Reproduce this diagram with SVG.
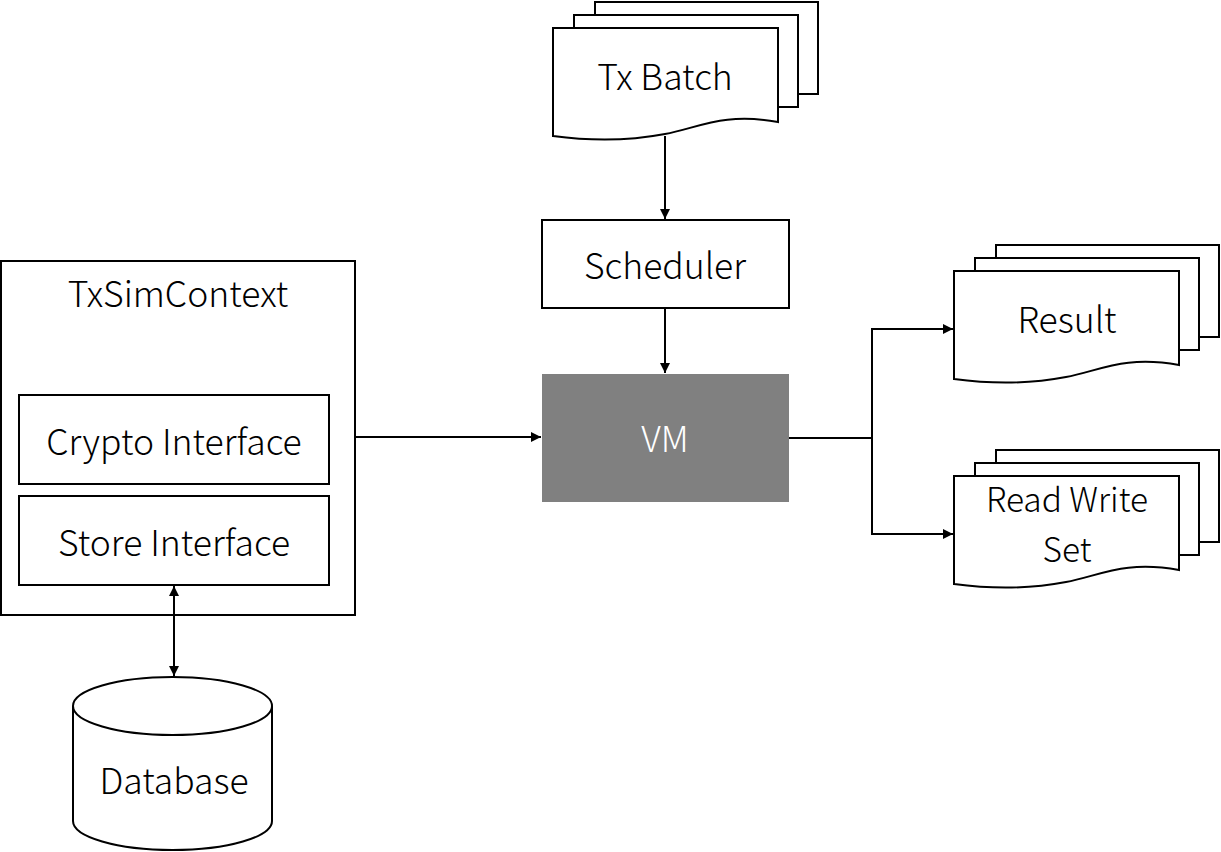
<svg xmlns="http://www.w3.org/2000/svg" width="1221" height="852" viewBox="0 0 1221 852">
<defs>
<style>
.s{fill:#fff;stroke:#000;stroke-width:2}
.t{font-family:"Noto Sans CJK SC","Noto Sans",sans-serif;font-size:35.5px;font-weight:300;fill:#000;text-anchor:middle;dominant-baseline:central}
.c{fill:none;stroke:#000;stroke-width:2}
</style>
<marker id="a" viewBox="0 0 10 10" refX="10" refY="5" markerWidth="11" markerHeight="10" orient="auto-start-reverse" markerUnits="userSpaceOnUse">
<path d="M0,0 L10,5 L0,10 Z" fill="#000"/>
</marker>
<g id="doc3">
<rect class="s" x="42" y="-26" width="223" height="92"/>
<rect class="s" x="21" y="-13" width="224" height="92"/>
<path class="s" d="M0,0 H225 V94 C170,84 145,100 112,106 C70,114 30,112 0,108 Z"/>
</g>
</defs>
<rect width="1221" height="852" fill="#fff"/>
<g id="txbatch">
<use href="#doc3" x="553" y="28"/>
<text class="t" x="665" y="74">Tx Batch</text>
</g>
<g id="scheduler">
<rect class="s" x="542" y="220" width="247" height="88"/>
<text class="t" x="665" y="263">Scheduler</text>
</g>
<g id="vm">
<rect x="542" y="374" width="247" height="128" fill="#808080"/>
<text class="t" x="665" y="436" style="fill:#fff">VM</text>
</g>
<g id="txsimcontext">
<rect class="s" x="1" y="261" width="354" height="354"/>
<text class="t" x="178" y="291">TxSimContext</text>
</g>
<g id="crypto">
<rect class="s" x="19" y="395" width="310" height="89"/>
<text class="t" x="174" y="439">Crypto Interface</text>
</g>
<g id="store">
<rect class="s" x="19" y="496" width="310" height="89"/>
<text class="t" x="174" y="540">Store Interface</text>
</g>
<g id="database">
<path class="s" d="M73,706 A99.5,29 0 0 1 272,706 V821 A99.5,29 0 0 1 73,821 Z"/>
<path class="c" d="M73,706 A99.5,29 0 0 0 272,706"/>
<text class="t" x="174" y="778">Database</text>
</g>
<g id="result">
<use href="#doc3" x="954" y="271"/>
<text class="t" x="1067" y="317">Result</text>
</g>
<g id="rwset">
<use href="#doc3" x="954" y="476"/>
<text class="t" x="1067" y="497" style="font-size:33.5px">Read Write</text>
<text class="t" x="1067" y="547" style="font-size:33.5px">Set</text>
</g>
<g id="connectors">
<path class="c" d="M665,136 V219" marker-end="url(#a)"/>
<path class="c" d="M665,308 V373" marker-end="url(#a)"/>
<path class="c" d="M355,437 H541" marker-end="url(#a)"/>
<path class="c" d="M789,438 H872 V329 H953" marker-end="url(#a)"/>
<path class="c" d="M872,438 V534 H953" marker-end="url(#a)"/>
<path class="c" d="M174,586 V676" marker-start="url(#a)" marker-end="url(#a)"/>
</g>
</svg>
